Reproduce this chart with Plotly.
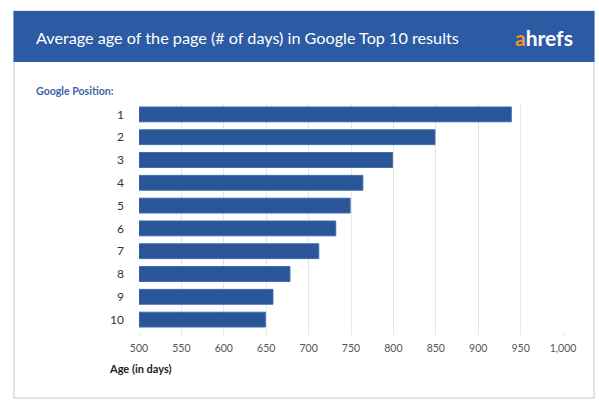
import plotly.graph_objects as go

positions = ["1", "2", "3", "4", "5", "6", "7", "8", "9", "10"]
avg_age_days = [939, 849, 799, 764, 749, 732, 712, 678, 658, 649]
x_tick_vals = [500, 550, 600, 650, 700, 750, 800, 850, 900, 950, 1000]
x_tick_text = ["500", "550", "600", "650", "700", "750", "800", "850", "900", "950", "1,000"]

title_text = "Average age of the page (# of days) in Google Top 10 results"
y_label = "Google Position:"
x_label = "Age (in days)"

W, H = 599, 405
FONT = "Lato, 'Open Sans', sans-serif"
BLUE_HDR = "#2c5ba3"
BAR = "#2a5699"

L, R, T, B = 139, W - 563, 103, H - 331
PW, PH = W - L - R, H - T - B

fig = go.Figure()
fig.add_trace(go.Bar(
    y=positions, x=[v - 500 for v in avg_age_days], base=500,
    orientation="h",
    marker=dict(color=BAR, line=dict(color="#3d6aab", width=1)),
    width=0.65,
    hoverinfo="skip",
))

def px_x(p):
    return (p - L) / PW

def px_y(p):
    return (H - B - p) / PH

shapes = [
    dict(type="rect", xref="paper", yref="paper", layer="below",
         x0=px_x(14), x1=px_x(594), y0=px_y(398), y1=px_y(11),
         fillcolor="white", line=dict(color="#dcdcdc", width=1.5)),
    dict(type="rect", xref="paper", yref="paper", layer="below",
         x0=px_x(13.5), x1=px_x(594.5), y0=px_y(62), y1=px_y(11),
         fillcolor=BLUE_HDR, line=dict(width=0)),
]

annotations = [
    dict(text=title_text, xref="paper", yref="paper", x=px_x(34), y=px_y(37),
         xanchor="left", yanchor="middle", showarrow=False,
         font=dict(family=FONT, size=16.2, color="white")),
    dict(text="<span style='color:#f0962f'>a</span>hrefs", xref="paper", yref="paper",
         x=px_x(575), y=px_y(37), xanchor="right", yanchor="middle", showarrow=False,
         font=dict(family=FONT, size=21, color="white", weight="bold")),
    dict(text=y_label, xref="paper", yref="paper", x=px_x(34), y=px_y(91),
         xanchor="left", yanchor="middle", showarrow=False,
         font=dict(family=FONT, size=10.6, color="#3b64a8", weight="bold")),
    dict(text=x_label, xref="paper", yref="paper", x=px_x(107), y=px_y(368),
         xanchor="left", yanchor="middle", showarrow=False,
         font=dict(family=FONT, size=11, color="#222222", weight="bold")),
]

fig.update_layout(
    width=W, height=H,
    margin=dict(l=L, r=R, t=T, b=B, pad=0),
    paper_bgcolor="white", plot_bgcolor="rgba(0,0,0,0)",
    showlegend=False,
    shapes=shapes, annotations=annotations,
    bargap=0.35,
    xaxis=dict(range=[500, 1000], tickvals=x_tick_vals, ticktext=x_tick_text,
               showgrid=True, gridcolor="#e6e6e6", gridwidth=1,
               zeroline=False, showline=False, ticks="outside", ticklen=4,
               tickcolor="#e6e6e6",
               tickfont=dict(family=FONT, size=10.5, color="#555555"),
               ticklabelstandoff=3, fixedrange=True),
    yaxis=dict(type="category", categoryorder="array", categoryarray=positions,
               autorange="reversed", showgrid=False, zeroline=False, showline=False,
               ticks="", tickfont=dict(family=FONT, size=12, color="#333333"),
               ticklabelstandoff=14, fixedrange=True),
    font=dict(family=FONT),
)

fig.write_html("out.html", config=dict(displayModeBar=False))
